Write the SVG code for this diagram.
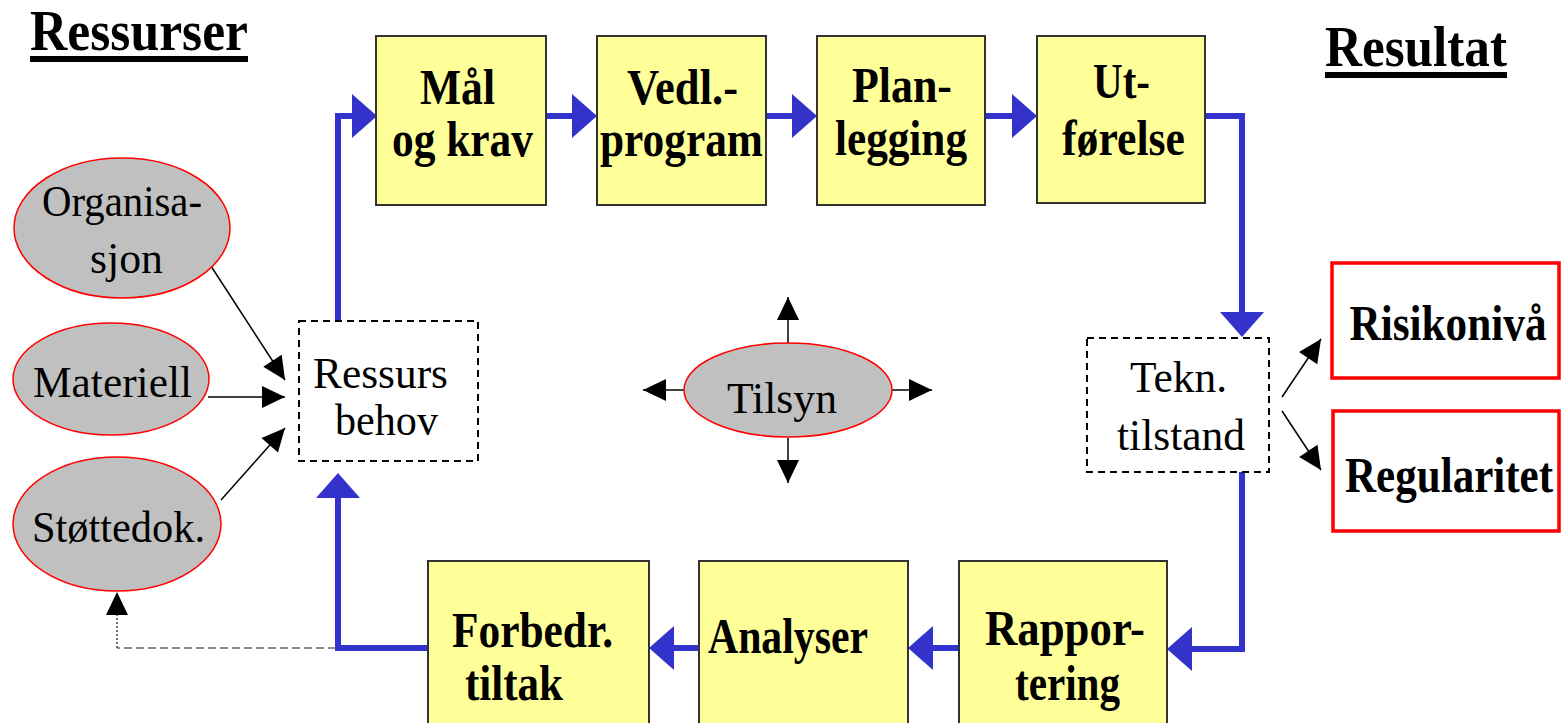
<svg xmlns="http://www.w3.org/2000/svg" width="1562" height="723" viewBox="0 0 1562 723">
<style>
text{font-family:"Liberation Serif","Times New Roman",serif;fill:#000}
.b{font-weight:bold;font-size:50px}
.r{font-size:45px}
.t{font-weight:bold;font-size:56px}
.box{fill:#ffff99;stroke:#333;stroke-width:2}
.ell{fill:#c0c0c0;stroke:#ff0000;stroke-width:1.5}
.dash{fill:#fff;stroke:#000;stroke-width:2;stroke-dasharray:7,5}
.res{fill:#fff;stroke:#ff0000;stroke-width:3.5}
.flow{fill:none;stroke:#3333cc;stroke-width:6;marker-end:url(#bh)}
.thin{fill:none;stroke:#000;stroke-width:1.5;marker-end:url(#kh)}
</style>
<defs>
<marker id="bh" markerUnits="userSpaceOnUse" markerWidth="26" markerHeight="46" refX="0" refY="22" orient="auto" overflow="visible">
<path d="M0,0 L25,22 L0,44 Z" fill="#3333cc"/>
</marker>
<marker id="kh" markerUnits="userSpaceOnUse" markerWidth="24" markerHeight="24" refX="23" refY="11" orient="auto" overflow="visible">
<path d="M0,0 L23,11 L0,22 Z" fill="#000"/>
</marker>
</defs>
<rect width="1562" height="723" fill="#fff"/>

<g id="title-ressurser">
<text class="t" x="30" y="50" textLength="218" lengthAdjust="spacingAndGlyphs">Ressurser</text>
<rect x="30" y="56" width="218" height="6" fill="#000"/>
</g>
<g id="title-resultat">
<text class="t" x="1325" y="66" textLength="182" lengthAdjust="spacingAndGlyphs">Resultat</text>
<rect x="1325" y="72" width="182" height="6" fill="#000"/>
</g>

<g id="connectors">
<path class="flow" d="M338,321 V116 H352"/>
<path class="flow" d="M546,116 H572"/>
<path class="flow" d="M766,116 H792"/>
<path class="flow" d="M985,116 H1012"/>
<path class="flow" d="M1205,116 H1242 V312"/>
<path class="flow" d="M1242,472 V649 H1192"/>
<path class="flow" d="M959,648 H933"/>
<path class="flow" d="M699,648 H674"/>
<path class="flow" d="M428,648 H338 V498"/>
<path d="M336,648 H117" fill="none" stroke="#666" stroke-width="1.5" stroke-dasharray="8,4"/>
<path d="M117,648 V592" fill="none" stroke="#444" stroke-width="1.5" stroke-dasharray="2,2" marker-end="url(#kh)"/>
<path class="thin" d="M209,263 L285,380"/>
<path class="thin" d="M208,397 L285,397"/>
<path class="thin" d="M221,500 L285,428"/>
<path class="thin" d="M788,343 V297"/>
<path class="thin" d="M788,438 V483"/>
<path class="thin" d="M684,390 H643"/>
<path class="thin" d="M892,390 H932"/>
<path class="thin" d="M1282,397 L1321,339"/>
<path class="thin" d="M1282,411 L1321,470"/>
</g>

<g id="node-maal">
<rect class="box" x="376" y="36" width="170" height="169"/>
<text class="b" x="420" y="104" textLength="75" lengthAdjust="spacingAndGlyphs">Mål</text>
<text class="b" x="392" y="156" textLength="141" lengthAdjust="spacingAndGlyphs">og krav</text>
</g>
<g id="node-vedl">
<rect class="box" x="597" y="36" width="169" height="169"/>
<text class="b" x="627" y="104" textLength="111" lengthAdjust="spacingAndGlyphs">Vedl.-</text>
<text class="b" x="600" y="156" textLength="163" lengthAdjust="spacingAndGlyphs">program</text>
</g>
<g id="node-plan">
<rect class="box" x="817" y="36" width="168" height="169"/>
<text class="b" x="852" y="102" textLength="100" lengthAdjust="spacingAndGlyphs">Plan-</text>
<text class="b" x="835" y="155" textLength="132" lengthAdjust="spacingAndGlyphs">legging</text>
</g>
<g id="node-ut">
<rect class="box" x="1037" y="36" width="168" height="167"/>
<text class="b" x="1093" y="98" textLength="57" lengthAdjust="spacingAndGlyphs">Ut-</text>
<text class="b" x="1062" y="155" textLength="123" lengthAdjust="spacingAndGlyphs">førelse</text>
</g>

<g id="node-organisasjon">
<ellipse class="ell" cx="122" cy="228" rx="108" ry="70"/>
<text class="r" x="42" y="216" textLength="160" lengthAdjust="spacingAndGlyphs">Organisa-</text>
<text class="r" x="90" y="273" textLength="73" lengthAdjust="spacingAndGlyphs">sjon</text>
</g>
<g id="node-materiell">
<ellipse class="ell" cx="111" cy="379" rx="98" ry="56"/>
<text class="r" x="33" y="397" textLength="159" lengthAdjust="spacingAndGlyphs">Materiell</text>
</g>
<g id="node-stottedok">
<ellipse class="ell" cx="117" cy="524" rx="104" ry="67"/>
<text class="r" x="32" y="542" textLength="173" lengthAdjust="spacingAndGlyphs">Støttedok.</text>
</g>

<g id="node-ressursbehov">
<rect class="dash" x="299" y="321" width="179" height="140"/>
<text class="r" x="313" y="388" textLength="135" lengthAdjust="spacingAndGlyphs">Ressurs</text>
<text class="r" x="335" y="435" textLength="103" lengthAdjust="spacingAndGlyphs">behov</text>
</g>

<g id="node-tilsyn">
<ellipse class="ell" cx="788" cy="390" rx="104" ry="47"/>
<text class="r" x="727" y="413" textLength="110" lengthAdjust="spacingAndGlyphs">Tilsyn</text>
</g>

<g id="node-tekn">
<rect class="dash" x="1087" y="338" width="182" height="134"/>
<text class="r" x="1130" y="392" textLength="97" lengthAdjust="spacingAndGlyphs">Tekn.</text>
<text class="r" x="1117" y="450" textLength="128" lengthAdjust="spacingAndGlyphs">tilstand</text>
</g>

<g id="node-risiko">
<rect class="res" x="1332" y="263" width="227" height="115"/>
<text class="b" x="1448" y="340" font-size="46" text-anchor="middle" textLength="197" lengthAdjust="spacingAndGlyphs">Risikonivå</text>
</g>
<g id="node-regularitet">
<rect class="res" x="1333" y="411" width="226" height="120"/>
<text class="b" x="1449" y="492" font-size="45" text-anchor="middle" textLength="208" lengthAdjust="spacingAndGlyphs">Regularitet</text>
</g>

<g id="node-forbedr">
<rect class="box" x="428" y="561" width="221" height="165"/>
<text class="b" x="452" y="647" textLength="161" lengthAdjust="spacingAndGlyphs">Forbedr.</text>
<text class="b" x="465" y="700" textLength="98" lengthAdjust="spacingAndGlyphs">tiltak</text>
</g>
<g id="node-analyser">
<rect class="box" x="699" y="561" width="209" height="165"/>
<text class="b" x="708" y="653" textLength="160" lengthAdjust="spacingAndGlyphs">Analyser</text>
</g>
<g id="node-rapport">
<rect class="box" x="959" y="561" width="208" height="165"/>
<text class="b" x="985" y="645" textLength="160" lengthAdjust="spacingAndGlyphs">Rappor-</text>
<text class="b" x="1015" y="700" textLength="105" lengthAdjust="spacingAndGlyphs">tering</text>
</g>
</svg>
